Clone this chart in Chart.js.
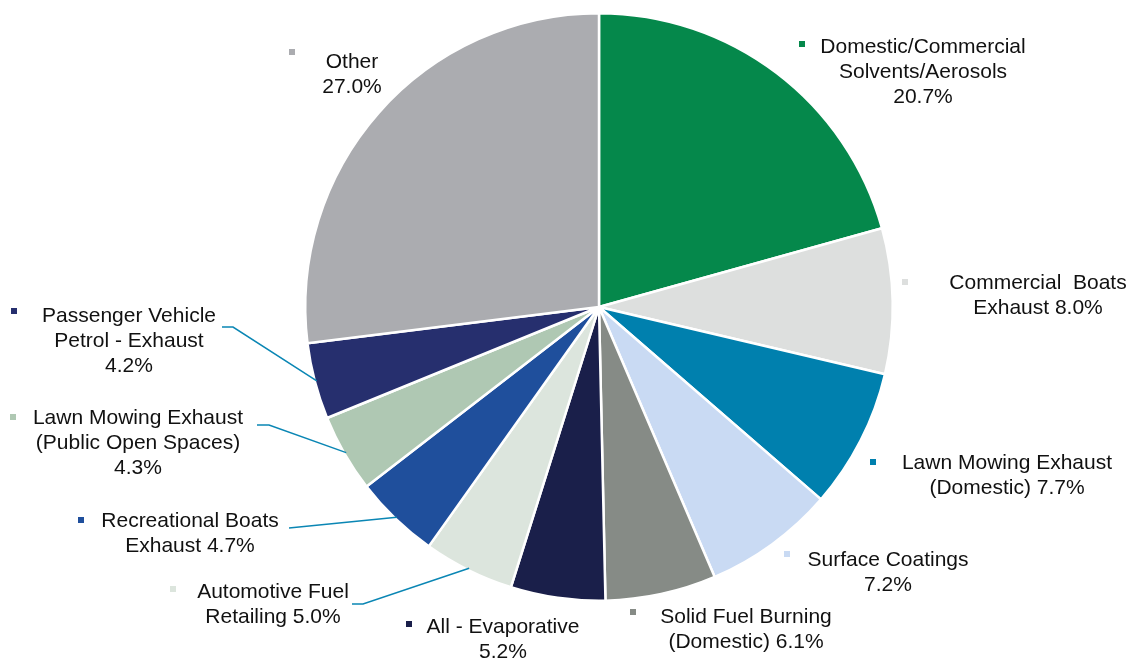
<!DOCTYPE html>
<html>
<head>
<meta charset="utf-8">
<script src="https://cdn.jsdelivr.net/npm/chart.js@4"></script>
<style>
  html, body { margin: 0; padding: 0; background: #fff; }
  #wrap { width: 1130px; height: 659px; position: relative; }
</style>
</head>
<body>
<div id="wrap"><canvas id="vocChart" width="1130" height="659"></canvas></div>
<script>
const categories = [
  "Domestic/Commercial Solvents/Aerosols",
  "Commercial Boats Exhaust",
  "Lawn Mowing Exhaust (Domestic)",
  "Surface Coatings",
  "Solid Fuel Burning (Domestic)",
  "All - Evaporative",
  "Automotive Fuel Retailing",
  "Recreational Boats Exhaust",
  "Lawn Mowing Exhaust (Public Open Spaces)",
  "Passenger Vehicle Petrol - Exhaust",
  "Other",
];

const shares = [20.7, 8.0, 7.7, 7.2, 6.1, 5.2, 5.0, 4.7, 4.3, 4.2, 27.0];

const sliceColors = [
  "#05884b", "#dddfde", "#0080ae", "#c9daf3", "#868b86", "#1a1f4a",
  "#dce5dd", "#1f4f9c", "#afc8b3", "#262f6e", "#abacb0",
];

// how each label wraps; {pct} is replaced by the slice value
const labelLines = [
  ["Domestic/Commercial", "Solvents/Aerosols", "{pct}"],
  ["Commercial  Boats", "Exhaust {pct}"],
  ["Lawn Mowing Exhaust", "(Domestic) {pct}"],
  ["Surface Coatings", "{pct}"],
  ["Solid Fuel Burning", "(Domestic) {pct}"],
  ["All - Evaporative", "{pct}"],
  ["Automotive Fuel", "Retailing {pct}"],
  ["Recreational Boats", "Exhaust {pct}"],
  ["Lawn Mowing Exhaust", "(Public Open Spaces)", "{pct}"],
  ["Passenger Vehicle", "Petrol - Exhaust", "{pct}"],
  ["Other", "{pct}"],
];

// label placement: text centre, first line y, legend square, optional leader start
const labelLayout = [
  { x: 923, y: 47, mx: 802, my: 44 },
  { x: 1038, y: 283, mx: 905, my: 282 },
  { x: 1007, y: 463, mx: 873, my: 462 },
  { x: 888, y: 560, mx: 787, my: 554 },
  { x: 746, y: 617, mx: 633, my: 612 },
  { x: 503, y: 627, mx: 409, my: 624 },
  { x: 273, y: 592, mx: 173, my: 589, leader: [[352, 604], [363, 604]] },
  { x: 190, y: 521, mx: 81, my: 520, leader: [[289, 528]] },
  { x: 138, y: 418, mx: 13, my: 417, leader: [[257, 425], [269, 425]] },
  { x: 129, y: 316, mx: 14, my: 311, leader: [[222, 327], [233, 327]] },
  { x: 352, y: 62, mx: 292, my: 52 },
];

const outsideLabels = {
  id: "outsideLabels",
  afterDraw(chart) {
    const ctx = chart.ctx;
    const arcs = chart.getDatasetMeta(0).data;
    ctx.save();
    ctx.font = "21px 'Liberation Sans', Arial, sans-serif";
    ctx.textAlign = "center";
    ctx.textBaseline = "middle";
    labelLayout.forEach((pos, i) => {
      const arc = arcs[i];
      const pct = shares[i].toFixed(1) + "%";

      if (pos.leader) {
        const mid = (arc.startAngle + arc.endAngle) / 2;
        const r = arc.outerRadius - 2;
        ctx.strokeStyle = "#0a86b4";
        ctx.lineWidth = 1.5;
        ctx.beginPath();
        ctx.moveTo(pos.leader[0][0], pos.leader[0][1]);
        pos.leader.slice(1).forEach((p) => ctx.lineTo(p[0], p[1]));
        ctx.lineTo(arc.x + r * Math.cos(mid), arc.y + r * Math.sin(mid));
        ctx.stroke();
      }

      ctx.fillStyle = sliceColors[i];
      ctx.fillRect(pos.mx - 3, pos.my - 3, 6, 6);

      ctx.fillStyle = "#111";
      labelLines[i].forEach((line, k) => {
        ctx.fillText(line.replace("{pct}", pct), pos.x, pos.y + k * 25);
      });
    });
    ctx.restore();
  },
};

new Chart(document.getElementById("vocChart"), {
  type: "pie",
  data: {
    labels: categories,
    datasets: [
      {
        data: shares,
        backgroundColor: sliceColors,
        borderColor: "#ffffff",
        borderWidth: 2.5,
      },
    ],
  },
  options: {
    responsive: false,
    animation: false,
    layout: { padding: { top: 12, bottom: 57, left: 68, right: 0 } },
    plugins: {
      legend: { display: false },
      tooltip: { enabled: false },
    },
  },
  plugins: [outsideLabels],
});
</script>
</body>
</html>
